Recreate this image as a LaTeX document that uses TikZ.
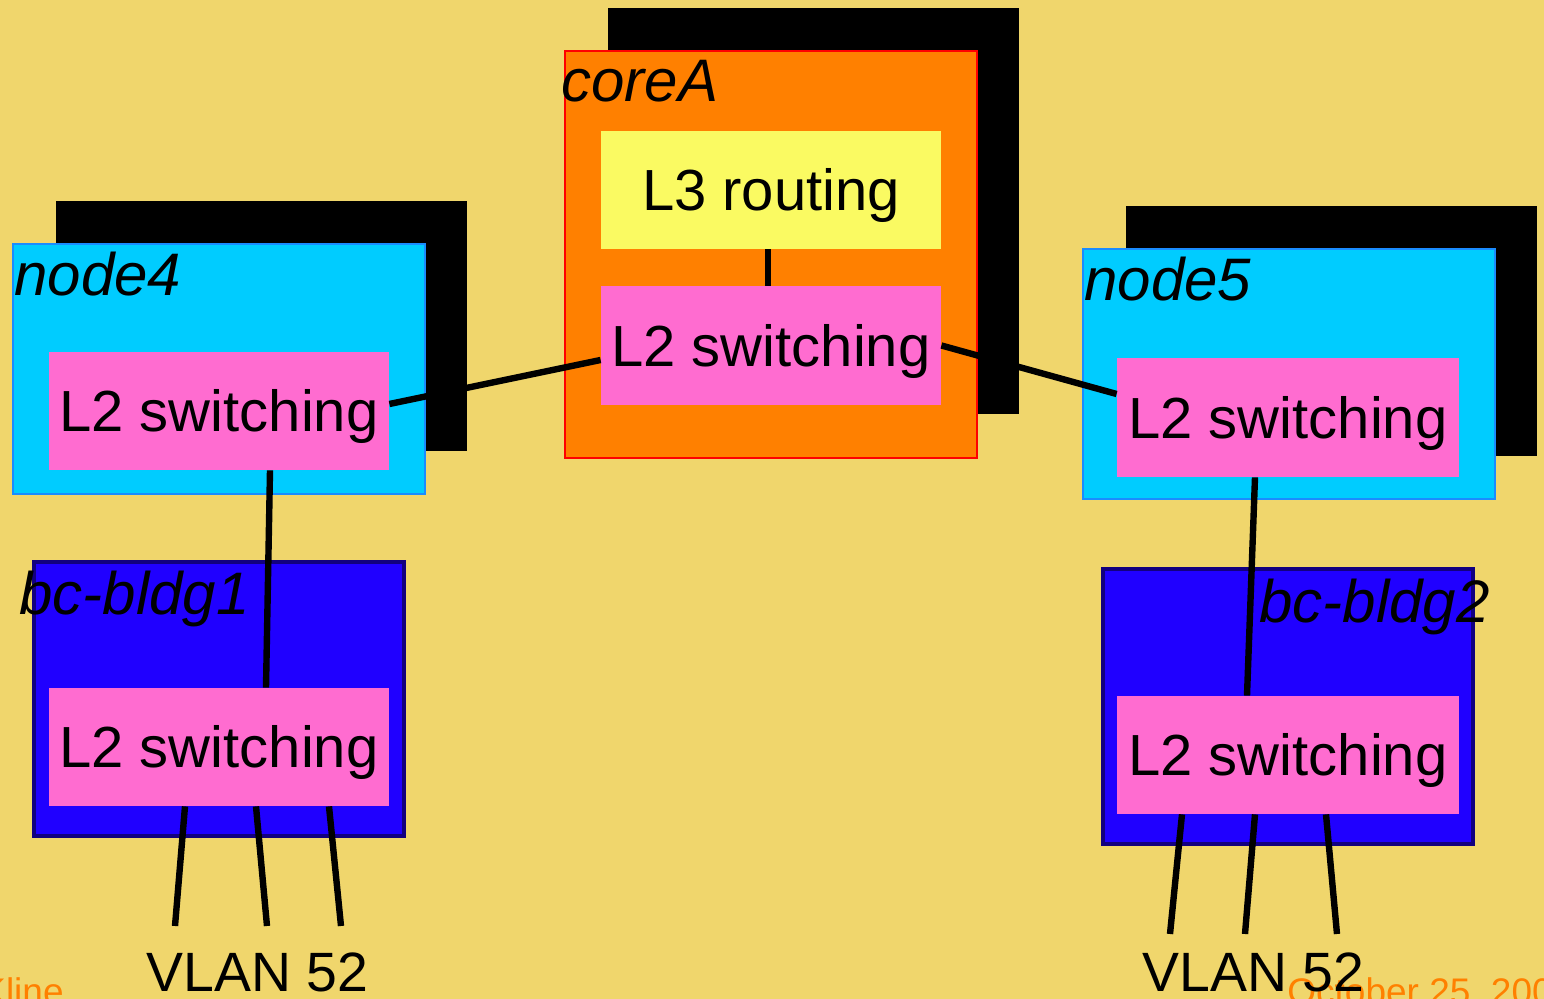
\documentclass[tikz,border=0pt]{standalone}
\usepackage{fontspec}
\setmainfont{Liberation Sans}
\definecolor{bgc}{HTML}{F0D66C}
\definecolor{orangec}{HTML}{FF8000}
\definecolor{yellowc}{HTML}{FAFA62}
\definecolor{pinkc}{HTML}{FF6CD0}
\definecolor{cyanc}{HTML}{00CCFF}
\definecolor{cyanborder}{HTML}{1A8CFF}
\definecolor{bluec}{HTML}{2000FF}
\definecolor{navyc}{HTML}{12007F}
\definecolor{footc}{HTML}{FF8000}
\tikzset{
  shadowbox/.style={fill=black, draw=none, inner sep=0pt, minimum width=205.5pt},
  corebox/.style={fill=orangec, draw=red, line width=1pt, inner sep=0pt},
  hostbox/.style={fill=cyanc, draw=cyanborder, line width=1pt, inner sep=0pt, minimum width=206pt, minimum height=125pt},
  bldgbox/.style={fill=bluec, draw=navyc, line width=2pt, inner sep=0pt},
  funcbox/.style={inner sep=0pt, minimum width=170pt, minimum height=59.5pt,
    font=\fontsize{29}{34}\selectfont, text height=20.8pt, text depth=0pt},
  pinkbox/.style={funcbox, fill=pinkc},
  yellowbox/.style={funcbox, fill=yellowc},
  boxlabel/.style={anchor=base west, inner sep=0pt, font=\fontsize{30}{35}\selectfont\itshape},
  vlanlabel/.style={anchor=base west, inner sep=0pt, font=\fontsize{27.7}{32}\selectfont},
  footlabel/.style={inner sep=0pt, text=footc, font=\fontsize{18.5}{22}\selectfont},
  link/.style={line width=3.2pt, black}
}
\begin{document}
\begin{tikzpicture}[x=0.5pt,y=-0.5pt]
\useasboundingbox (0,0) rectangle (1544,999);
\clip (0,0) rectangle (1544,999);
\fill[bgc] (0,0) rectangle (1544,999);

% footer
\node[footlabel, anchor=base east] (footl) at (64,1005) {Kline};
\node[footlabel, anchor=base west] (footr) at (1287,1005) {October 25, 200};

% coreA
\node[shadowbox, minimum height=203pt] (shA) at (813.5,211) {};
\node[corebox, minimum width=206pt, minimum height=203.5pt] (boxA) at (771,254.5) {};
\node[boxlabel] (labA) at (561,102) {coreA};
\node[yellowbox, minimum height=59pt] (l3) at (771,190) {L3 routing};
\node[pinkbox] (pA) at (771,345.5) {L2 switching};

% node4
\node[shadowbox, minimum height=125pt] (sh4) at (261.5,326) {};
\node[hostbox] (box4) at (219,369) {};
\node[boxlabel] (lab4) at (14,296) {node4};
\node[pinkbox, minimum height=59pt] (p4) at (219,411) {L2 switching};

% node5
\node[shadowbox, minimum height=125pt] (sh5) at (1331.5,331) {};
\node[hostbox] (box5) at (1288.5,374) {};
\node[boxlabel] (lab5) at (1084,301) {node5};
\node[pinkbox, minimum width=171pt] (p5) at (1288,417.5) {L2 switching};

% bc-bldg1
\node[bldgbox, minimum width=185pt, minimum height=137pt] (boxb1) at (218.5,699) {};
\node[boxlabel] (labb1) at (19,615) {bc-bldg1};
\node[pinkbox, minimum height=59pt] (pb1) at (219,747) {L2 switching};

% bc-bldg2
\node[bldgbox, minimum width=185pt, minimum height=137.5pt] (boxb2) at (1288,706.5) {};
\node[boxlabel] (labb2) at (1259,623) {bc-bldg2};
\node[pinkbox, minimum width=171pt, minimum height=59pt] (pb2) at (1288,755) {L2 switching};

% VLAN labels
\node[vlanlabel] (v1) at (146,992) {VLAN 52};
\node[vlanlabel] (v2) at (1142,992) {VLAN 52};

% loose ends of the VLAN wires
\coordinate (e1a) at (175,926);
\coordinate (e1b) at (267,926);
\coordinate (e1c) at (341,926);
\coordinate (e2a) at (1170,934);
\coordinate (e2b) at (1245,934);
\coordinate (e2c) at (1337,934);

% connectors
\draw[link] ([xshift=-1.5pt]l3.south) -- ([xshift=-1.5pt]pA.north);
\draw[link] ([yshift=3.5pt]p4.east) -- ([yshift=-7.25pt]pA.west);
\draw[link] (pA.east) -- ([yshift=11.75pt]p5.west);
\draw[link] ([xshift=25.5pt]p4.south) -- ([xshift=23.5pt]pb1.north);
\draw[link] ([xshift=-16.5pt]p5.south) -- ([xshift=-20.5pt]pb2.north);
\draw[link] ([xshift=-17pt]pb1.south) -- (e1a);
\draw[link] ([xshift=18.5pt]pb1.south) -- (e1b);
\draw[link] ([xshift=55pt]pb1.south) -- (e1c);
\draw[link] ([xshift=-53pt]pb2.south) -- (e2a);
\draw[link] ([xshift=-16.5pt]pb2.south) -- (e2b);
\draw[link] ([xshift=19pt]pb2.south) -- (e2c);
\end{tikzpicture}
\end{document}
